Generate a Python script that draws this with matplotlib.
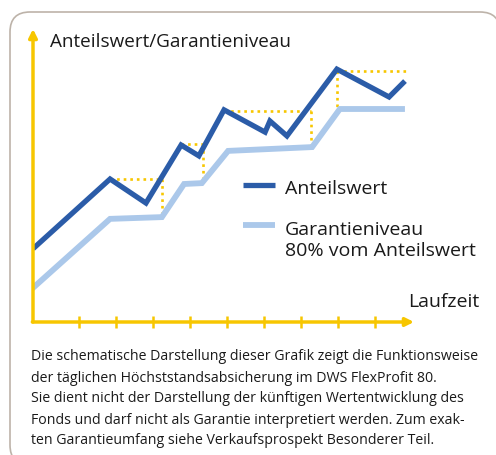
import matplotlib.pyplot as plt
from matplotlib.patches import FancyBboxPatch

plt.rcParams['font.family'] = ['Open Sans', 'DejaVu Sans']

# colours
DARK = '#2b5ca8'
LIGHT = '#abc8ea'
YELLOW = '#f7c600'
FRAME = '#bdb3a9'
TEXT = '#1a1a1a'

# Anteilswert (share value) over time
anteil_x = [-0.19, 1.84, 2.81, 3.76, 4.24, 4.92, 6.03, 6.16, 6.62, 7.97, 9.38, 9.76]
anteil_y = [2.56, 4.88, 4.06, 6.04, 5.67, 7.24, 6.48, 6.86, 6.35, 8.63, 7.68, 8.16]

# Garantieniveau (guarantee level)
garant_x = [-0.22, 1.84, 3.24, 3.84, 4.32, 5.03, 7.30, 8.05, 9.73]
garant_y = [1.19, 3.52, 3.58, 4.71, 4.74, 5.84, 5.97, 7.27, 7.27]

# dotted guide lines: horizontal (y, x0, x1), vertical (x, y0, y1)
hguides = [(4.88, 1.84, 3.24), (6.08, 3.76, 4.35), (7.20, 4.92, 7.27), (8.57, 7.97, 9.86)]
vguides = [(3.24, 4.88, 3.55), (4.35, 6.08, 4.74), (7.27, 7.20, 5.97), (7.97, 8.57, 7.24)]

ticks = [1, 2, 3, 4, 5, 6, 7, 8, 9]

footer = ["Die schematische Darstellung dieser Grafik zeigt die Funktionsweise",
          "der täglichen Höchststandsabsicherung im DWS FlexProfit 80.",
          "Sie dient nicht der Darstellung der künftigen Wertentwicklung des",
          "Fonds und darf nicht als Garantie interpretiert werden. Zum exak-",
          "ten Garantieumfang siehe Verkaufsprospekt Besonderer Teil."]

W, H = 496, 455
fig = plt.figure(figsize=(W / 100, H / 100), dpi=100)

# rounded frame (display pixel coords, origin bottom-left)
frame = FancyBboxPatch((10 + 20, -10 + 20), 490 - 40, (H - 12 + 10) - 40,
                       boxstyle='round,pad=20', transform=None,
                       fc='white', ec=FRAME, lw=1.2, zorder=-10)
fig.patches.append(frame)

ax = fig.add_axes([33 / W, 1 - 322 / H, 381 / W, 293 / H])
ax.set_xlim(-0.243, 10.054)
ax.set_ylim(0, 10)
ax.axis('off')

# axes with arrows
ax.annotate('', xy=(-0.243, 10), xytext=(-0.243, 0),
            arrowprops=dict(arrowstyle='-|>', color=YELLOW, lw=2.5,
                            mutation_scale=12, shrinkA=0, shrinkB=0),
            annotation_clip=False)
ax.annotate('', xy=(10.054, 0), xytext=(-0.26, 0),
            arrowprops=dict(arrowstyle='-|>', color=YELLOW, lw=2.5,
                            mutation_scale=12, shrinkA=0, shrinkB=0),
            annotation_clip=False)
for t in ticks:
    ax.plot([t, t], [-0.22, 0.22], color=YELLOW, lw=1.8, clip_on=False,
            solid_capstyle='butt')

# dotted guides
for y, x0, x1 in hguides:
    ax.plot([x0, x1], [y, y], color=YELLOW, lw=1.9, ls=(0, (1, 1.5)))
for x, y0, y1 in vguides:
    ax.plot([x, x], [y0, y1], color=YELLOW, lw=1.9, ls=(0, (1, 1.5)))

ax.plot(garant_x, garant_y, color=LIGHT, lw=4.2, solid_joinstyle='miter')
ax.plot(anteil_x, anteil_y, color=DARK, lw=3.8, solid_joinstyle='miter')

# legend (manual)
ax.plot([5.44, 6.3], [4.68, 4.68], color=DARK, lw=3.8, solid_capstyle='butt')
ax.plot([5.44, 6.3], [3.32, 3.32], color=LIGHT, lw=4.2, solid_capstyle='butt')

fig.text(285 / W, 1 - 194 / H, 'Anteilswert', fontsize=14, color=TEXT,
         va='baseline', ha='left')
fig.text(285 / W, 1 - 235 / H, 'Garantieniveau', fontsize=14,
         color=TEXT, va='baseline', ha='left')
fig.text(285 / W, 1 - 256 / H, '80% vom Anteilswert', fontsize=14,
         color=TEXT, va='baseline', ha='left')
fig.text(479 / W, 1 - 307 / H, 'Laufzeit', fontsize=14, color=TEXT,
         ha='right', va='baseline')
fig.text(50 / W, 1 - 47 / H, 'Anteilswert/Garantieniveau', fontsize=13.6,
         color=TEXT, ha='left', va='baseline')

for i, line in enumerate(footer):
    fig.text(31 / W, 1 - (360.5 + 21 * i) / H, line, fontsize=10.2,
             color=TEXT, ha='left', va='baseline')

fig.savefig('out.png', dpi=100)
